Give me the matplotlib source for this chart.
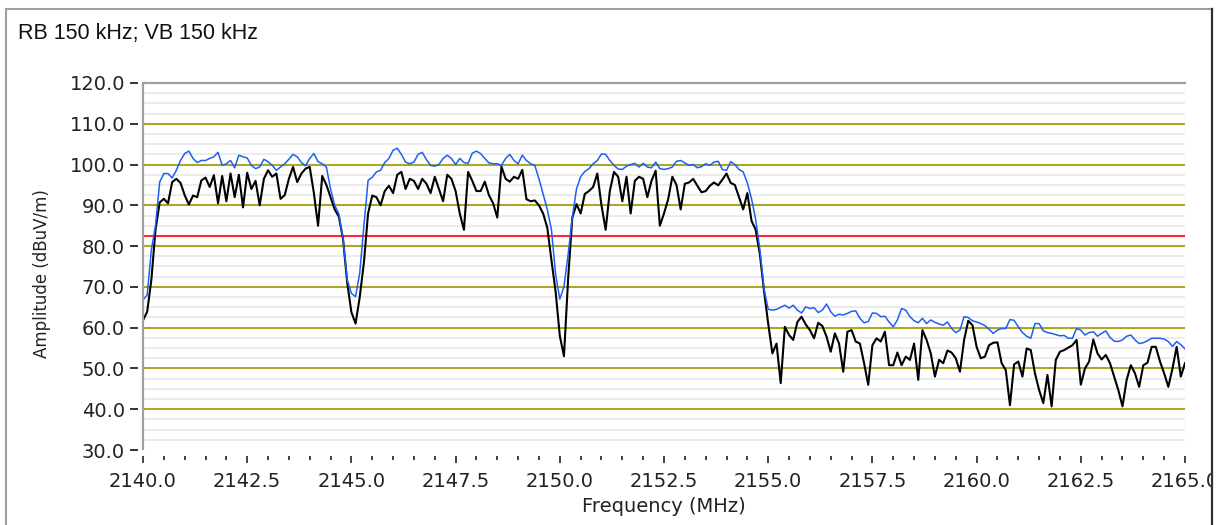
import numpy as np
import matplotlib
matplotlib.use("Agg")
import matplotlib.pyplot as plt
from matplotlib.ticker import MultipleLocator, FormatStrFormatter
from matplotlib.lines import Line2D
from matplotlib.patches import Rectangle

# ---------------- data ----------------
freq_start, freq_stop, freq_step = 2140.0, 2165.0, 0.1
freqs = np.round(np.arange(freq_start, freq_stop + freq_step / 2, freq_step), 1)

limit_line = 82.4  # dBuV/m

# peak trace (blue), 2140.0 .. 2165.0 MHz, 0.1 MHz steps
peak_trace = [
    66.8, 68, 79, 85, 95.7, 97.8, 97.8, 96.7, 98.6, 101,
    102.7, 103.3, 101.5, 100.5, 101, 101, 101.5, 101.9, 103, 99.8,
    100.2, 101, 99.2, 102.3, 101.9, 101.6, 99.8, 99, 99.4, 101.3,
    100.7, 99.8, 98.6, 99.4, 100.2, 101.3, 102.5, 101.9, 100.5, 99.7,
    101.5, 102.7, 100.7, 100.2, 99.4, 94, 90, 87.9, 81.7, 71.7,
    68.4, 67.6, 73.4, 85, 96.1, 96.9, 98.2, 98.6, 100.5, 101.5,
    103.5, 104, 102.5, 100.6, 100.2, 100.6, 102.5, 103, 101.2, 99.8,
    99.6, 100, 101.5, 102.3, 101.5, 100, 101.5, 100.5, 100.3, 102.8,
    103.3, 102.7, 101.5, 100.4, 100.2, 100.2, 99.8, 101.5, 102.5, 101,
    100.2, 102.3, 101, 100.2, 99.8, 96.5, 92.7, 89, 84, 73,
    67, 70, 78, 87, 94, 97, 98.3, 99, 100.2, 101,
    102.6, 102.5, 101, 99.8, 98.9, 98.8, 99.6, 100, 100.3, 99.4,
    100.3, 99.4, 99.2, 100.6, 99, 98.8, 99, 99.4, 100.8, 101,
    100.4, 99.8, 100, 99.2, 99.5, 100.2, 99.8, 100.6, 100.8, 98.8,
    98.6, 100.7, 100, 98.8, 98.2, 95.5, 91.6, 86.5, 79.2, 69.5,
    64.5, 64.3, 64.5, 65, 65.5, 64.8, 65.5, 64.3, 63.6, 65.1,
    64.7, 64.9, 63.7, 64.3, 65.8, 63.9, 62.8, 63.3, 63.1, 63.5,
    64, 64.1, 62.3, 61.2, 61.5, 63.6, 63.5, 62.7, 62.8, 61.4,
    60.2, 61.9, 64.7, 64.3, 62.7, 61.7, 61.2, 62.3, 61, 61.9,
    61.3, 60.9, 60.6, 61.4, 59.8, 58.8, 59.4, 62.7, 62.5, 61.7,
    61.4, 61, 60.5, 59.6, 58.6, 59.4, 59.8, 59.8, 62, 61.8,
    60.2, 58.8, 57.9, 57.4, 61, 61, 59.2, 58.8, 58.6, 58.3,
    58, 58.1, 57.4, 57.4, 59.8, 59.4, 58.2, 58.8, 59, 57.9,
    58.6, 59.2, 57.6, 56.7, 56.6, 57, 57.9, 58.2, 57, 56.1,
    56.3, 56.8, 57.4, 57.4, 57.4, 57.2, 56.6, 55.4, 56.6, 55.8,
    54.8,
]

# average / clear-write trace (black)
avg_trace = [
    61.8, 63.9, 71.7, 84, 90.7, 91.6, 90.5, 95.7, 96.5, 95.5,
    92.5, 90.2, 92.4, 92, 96.1, 96.8, 94.5, 97.4, 90.5, 97.2,
    91, 97.8, 92, 97.5, 89.5, 98, 94, 96, 90, 96.5,
    98.6, 97, 97.8, 91.6, 92.5, 96.5, 99.4, 95.7, 97.8, 99,
    99.4, 93, 85, 97.2, 95, 92, 89, 87.2, 81.7, 71,
    63.8, 61, 67.5, 76, 88, 92.4, 92, 90, 93.5, 94.8,
    93, 97.5, 98.2, 94, 96.5, 96, 94, 96.5, 95.3, 93,
    97, 94, 91, 97.5, 96.5, 93.5, 88, 84, 98.2, 96,
    93.5, 93.5, 95.8, 92.5, 90.5, 87, 99.5, 96.5, 95.8, 97,
    96.5, 98.7, 91.5, 91, 91.2, 90, 88, 84.5, 76.5, 68.8,
    58, 53, 72, 87, 90.3, 88, 92.8, 93.5, 94.5, 97.8,
    90, 84, 93.5, 98.2, 97, 91, 97, 88, 96, 97,
    96.5, 92, 96, 98.5, 85, 88, 91.5, 97, 95, 89,
    95.3, 95.6, 96.5, 94.8, 93.2, 93.5, 94.8, 95.6, 94.9, 96.3,
    97.8, 95.5, 95, 92, 89, 93, 86.2, 84, 78, 69,
    61, 53.7, 56.1, 46.4, 60.2, 58.2, 57, 61.4, 62.7, 60.8,
    59.4, 57.4, 61.2, 60.4, 57.8, 54.1, 58.6, 56.1, 49.2, 59,
    59.4, 56.6, 56.1, 51.3, 46, 55.7, 57.4, 56.6, 59, 50.8,
    50.8, 53.9, 50.8, 52.9, 52.1, 56.1, 47.2, 59.4, 57, 53.7,
    48, 52.1, 51.3, 54.4, 53.9, 52.5, 49.2, 57, 61.7, 60.6,
    55.3, 52.5, 52.9, 55.7, 56.3, 56.4, 51.3, 49.6, 41, 51,
    51.7, 48, 54.9, 54.5, 48.8, 44.7, 41.5, 48.4, 40.7, 52.1,
    54.1, 54.5, 55.1, 55.7, 57, 46, 50, 51.7, 57.1, 53.7,
    52.2, 53.3, 51.3, 48, 44.7, 40.7, 47.2, 50.8, 48.8, 45.5,
    50.8, 51.4, 55.3, 55.3, 51.7, 48.8, 45.5, 50, 55.3, 48,
    51.3,
]

title_text = "RB 150 kHz; VB 150 kHz"
x_label = "Frequency (MHz)"
y_label = "Amplitude (dBuV/m)"

# ---------------- figure ----------------
W, H = 1217, 525
fig = plt.figure(figsize=(W / 100, H / 100), dpi=100)
fig.patch.set_facecolor("white")

L, R, T, B = 143, 1185, 83, 450
ax = fig.add_axes([L / W, 1 - B / H, (R - L) / W, (B - T) / H])
ax.set_facecolor("white")
ax.set_xlim(freq_start, freq_stop)
ax.set_ylim(30, 120)

ax.xaxis.set_major_locator(MultipleLocator(2.5))
ax.xaxis.set_minor_locator(MultipleLocator(0.5))
ax.yaxis.set_major_locator(MultipleLocator(10))
ax.yaxis.set_minor_locator(MultipleLocator(2.5))
ax.xaxis.set_major_formatter(FormatStrFormatter("%.1f"))
ax.yaxis.set_major_formatter(FormatStrFormatter("%.1f"))

# spines
ax.spines["right"].set_visible(False)
ax.spines["bottom"].set_position(("outward", 4.3))
ax.spines["bottom"].set_visible(False)
ax.spines["left"].set_position(("outward", 3.6))
ax.spines["left"].set_visible(False)
ax.spines["top"].set_color("#a0a0a0")
ax.spines["top"].set_linewidth(1.6)
ax.plot([0, 0], [0, 1], transform=ax.transAxes, color="#a0a0a0", lw=1.6,
        clip_on=False, zorder=6, solid_capstyle="butt")

ax.tick_params(axis="y", which="major", direction="out", length=5.8, width=1.4,
               color="#333333", pad=3.6, labelsize=14, labelcolor="#222222")
ax.tick_params(axis="y", which="minor", length=0)
ax.tick_params(axis="x", which="major", direction="out", length=5.3, width=1.2,
               color="#222222", pad=6, labelsize=14, labelcolor="#222222")
ax.tick_params(axis="x", which="minor", direction="out", length=2.9, width=1.2,
               color="#222222")

# grid lines (from the library's own tick positions)
ylo, yhi = ax.get_ylim()
for v in ax.get_yticks(minor=True):
    if ylo < v < yhi:
        ax.axhline(v, color="#ebebeb", lw=1.4, zorder=0.5)
for v in ax.get_yticks():
    if ylo < v < yhi:
        ax.axhline(v, color="#a9a828", lw=1.5, zorder=1)

# limit line
ax.axhline(limit_line, color="#ff2a2a", lw=1.5, zorder=2)

# traces
ax.plot(freqs, avg_trace, color="black", lw=1.5, zorder=3)
ax.plot(freqs, peak_trace, color="#1f5ef5", lw=1.1, zorder=4)

# labels
ax.set_xlabel(x_label, fontsize=14, color="#222222")
ax.xaxis.set_label_coords(0.5, -(507 - B) / (B - T))
ax.xaxis.label.set_va("center")
ax.set_ylabel(y_label, fontsize=12, color="#222222")
ax.yaxis.set_label_coords((42 - L) / (R - L), (B - 273.5) / (B - T))
ax.yaxis.label.set_va("center")

fig.text(18 / W, 1 - 34 / H, title_text, family="Liberation Sans",
         fontsize=15.5, va="center", ha="left", color="#111111")

# outer frame
def fx(x):
    return x / W

def fy(y):
    return 1 - y / H

fig.add_artist(Line2D([fx(6), fx(1212)], [fy(9), fy(9)], color="#a0a0a0", lw=1.5,
                      transform=fig.transFigure, zorder=20))
fig.add_artist(Line2D([fx(6), fx(6)], [fy(9), fy(H)], color="#a0a0a0", lw=1.5,
                      transform=fig.transFigure, zorder=20))
fig.add_artist(Rectangle((fx(1213), 0), fx(W) - fx(1213) + 0.01, 1, facecolor="white",
                         edgecolor="none", transform=fig.transFigure, zorder=19))
fig.add_artist(Line2D([fx(1212), fx(1212)], [fy(9), fy(H)], color="#303030", lw=1.6,
                      transform=fig.transFigure, zorder=20))

fig.savefig("out.png", dpi=100, facecolor="white")
